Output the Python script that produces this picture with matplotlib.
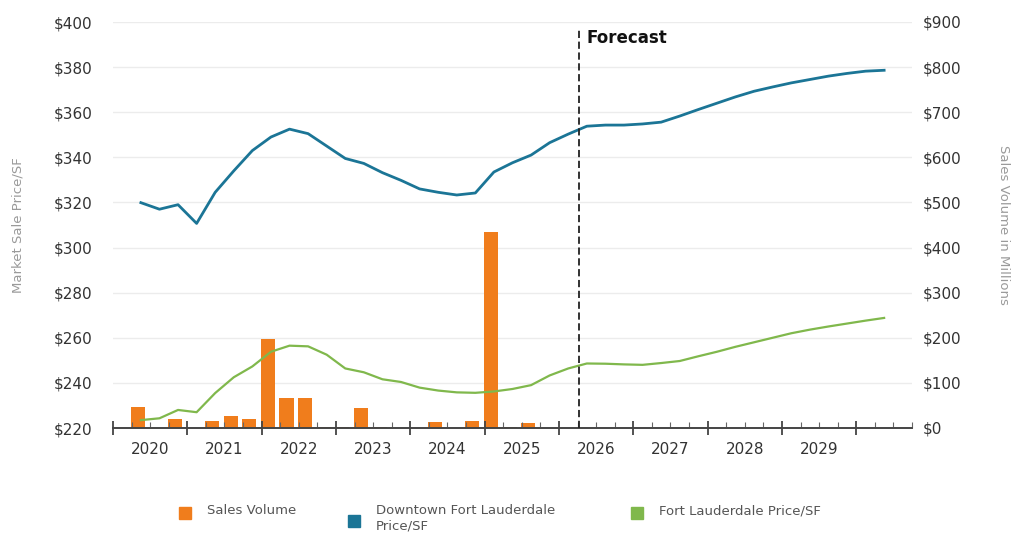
import matplotlib.pyplot as plt
from matplotlib.lines import Line2D
from matplotlib.transforms import blended_transform_factory
import numpy as np

# quarterly data, 2020 Q2 .. 2030 Q2 (plotted at quarter centres)
first_quarter = 2020.375
downtown_psf = [319.9, 317.0, 319.0, 310.7, 324.5, 334.0, 343.0, 349.0, 352.5, 350.5,
                345.0, 339.5, 337.3, 333.2, 329.8, 326.0, 324.5, 323.3, 324.2, 333.5,
                337.6, 341.0, 346.5, 350.3, 353.8, 354.3, 354.3, 354.8, 355.6, 358.3,
                361.2, 364.0, 366.8, 369.3, 371.2, 373.0, 374.5, 376.0, 377.2, 378.2,
                378.6]
ftl_psf = [223.5, 224.3, 228.0, 227.0, 235.5, 242.5, 247.3, 253.8, 256.5, 256.2,
           252.5, 246.4, 244.7, 241.6, 240.4, 237.9, 236.6, 235.8, 235.6, 236.2,
           237.3, 239.0, 243.3, 246.4, 248.6, 248.5, 248.2, 248.0, 248.8, 249.7,
           251.8, 253.8, 256.0, 258.0, 260.0, 262.0, 263.6, 265.0, 266.3, 267.6,
           268.8]
# sales volume in millions, historical quarters only
sales_volume = [47, 0, 19, 0, 16, 27, 21, 198, 66, 66,
                2, 3, 45, 3, 1, 1, 14, 1, 16, 435,
                2, 12, 1, 1]
year_labels = [2020, 2021, 2022, 2023, 2024, 2025, 2026, 2027, 2028, 2029]
forecast_start = 2026.27

left_ticks = np.arange(220, 401, 20)
right_ticks = np.arange(0, 901, 100)

c_blue = '#1b7596'
c_green = '#80b84c'
c_orange = '#f07d1c'
c_tick = '#333333'

fig = plt.figure(figsize=(10.11, 5.38), dpi=100)
ax = fig.add_axes([113 / 1011, 1 - 428 / 538, (912 - 113) / 1011, (428 - 22) / 538])
ax2 = ax.twinx()

xq = first_quarter + 0.25 * np.arange(len(downtown_psf))
xb = first_quarter + 0.25 * np.arange(len(sales_volume)) - 0.04

ax2.bar(xb, sales_volume, width=0.19, color=c_orange, zorder=2)
ax.plot(xq, downtown_psf, color=c_blue, lw=2.0, zorder=3)
ax.plot(xq, ftl_psf, color=c_green, lw=1.6, zorder=3)

# draw lines above bars
ax.set_zorder(ax2.get_zorder() + 1)
ax.patch.set_visible(False)

ax.set_xlim(2020, 2030.75)
ax.set_ylim(220, 400)
ax2.set_ylim(0, 900)

ax.set_yticks(left_ticks)
ax.set_yticklabels([f'${v}' for v in left_ticks], fontsize=11, color=c_tick)
ax2.set_yticks(right_ticks)
ax2.set_yticklabels([f'${v}' for v in right_ticks], fontsize=11, color=c_tick)
ax.tick_params(axis='y', length=0, pad=15)
ax2.tick_params(axis='y', length=0, pad=8)
# grid lives on the lower axes so it stays behind the bars
ax2.grid(axis='y', color='#ececec', lw=1, zorder=0)
ax2.set_axisbelow(True)

ax.set_xticks(np.arange(2020, 2031))
ax.set_xticklabels([])
ax.set_xticks(np.arange(2020, 2030.76, 0.25), minor=True)
ax.tick_params(axis='x', which='major', direction='inout', length=10, width=1.3, color='#444444')
ax.tick_params(axis='x', which='minor', direction='in', length=4, width=0.8, color='#666666')
tr = blended_transform_factory(ax.transData, ax.transAxes)
for yr in year_labels:
    ax.text(yr + 0.5, -0.035, str(yr), transform=tr, ha='center', va='top',
            fontsize=11, color=c_tick)

for a in (ax, ax2):
    for s in ('top', 'left', 'right'):
        a.spines[s].set_visible(False)
    a.spines['bottom'].set_color('#444444')
    a.spines['bottom'].set_linewidth(1.2)

ax.axvline(forecast_start, ymin=0, ymax=0.985, color='#222222', ls=(0, (4, 2)), lw=1.3, zorder=4)
ax.text(forecast_start + 0.1, 397, 'Forecast', fontsize=12, fontweight='bold', va='top', color='#111111')

fig.text(18 / 1011, 1 - 225 / 538, 'Market Sale Price/SF', rotation=90, ha='center', va='center',
         fontsize=9.5, color='#9a9a9a')
fig.text(1003 / 1011, 1 - 225 / 538, 'Sales Volume in Millions', rotation=270, ha='center', va='center',
         fontsize=9.5, color='#9a9a9a')

# legend
legend_items = [('Sales Volume', c_orange, 185, 510, 513),
                ('Downtown Fort Lauderdale\nPrice/SF', c_blue, 354, 510, 521),
                ('Fort Lauderdale Price/SF', c_green, 637, 510, 513)]
for label, color, x, ytext, ymark in legend_items:
    fig.add_artist(Line2D([x / 1011], [1 - ymark / 538], marker='s', markersize=8,
                          color=color, transform=fig.transFigure))
    fig.text((x + 22) / 1011, 1 - (ytext - 6) / 538, label, ha='left', va='top',
             fontsize=9.5, color='#555555', linespacing=1.25)

fig.savefig('out.png', dpi=100)
